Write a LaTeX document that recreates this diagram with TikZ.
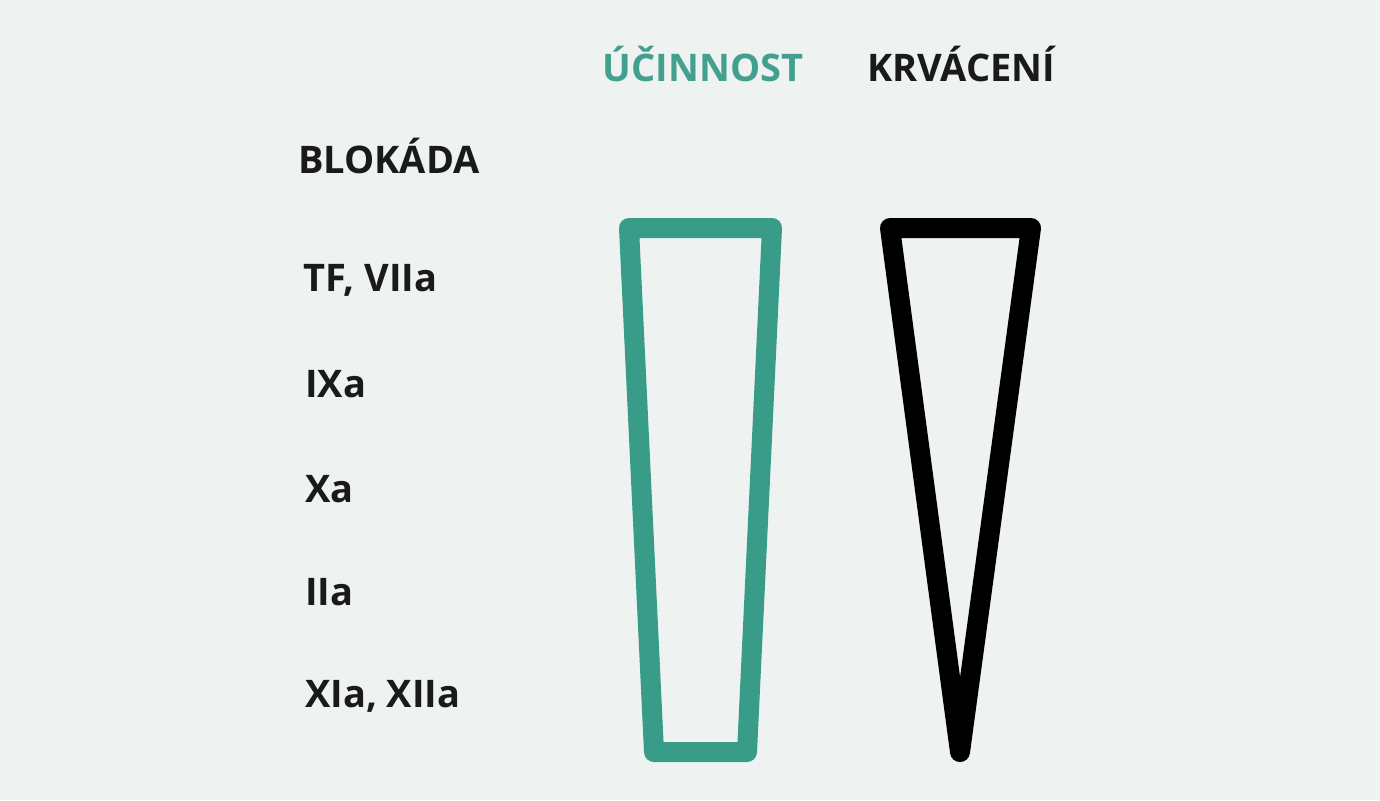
\documentclass[tikz,border=0pt]{standalone}
\usepackage{fontspec}
\setmainfont{Open Sans}
\definecolor{bg}{HTML}{EEF2F1}
\definecolor{teal}{HTML}{389C88}
\definecolor{tealtxt}{HTML}{44A08E}
\definecolor{ink}{HTML}{1A1A1A}
\begin{document}
\begin{tikzpicture}[x=1pt,y=-1pt,
  lbl/.style={anchor=west,inner sep=0pt,font=\fontsize{38}{45}\selectfont\bfseries,text=ink},
  head/.style={anchor=center,inner sep=0pt,font=\fontsize{38}{45}\selectfont\bfseries},
  shapeline/.style={line width=20pt,line join=round}]
\fill[bg] (0,0) rectangle (1380,800);
\useasboundingbox (0,0) rectangle (1380,800);
\node[head,text=tealtxt] (ucin) at (703,64) {ÚČINNOST};
\node[head,text=ink] (krv) at (961,64) {KRVÁCENÍ};
\node[lbl] (blok) at (298,156) {BLOKÁDA};
\node[lbl] (tf) at (303,280) {TF, VIIa};
\node[lbl] (ix) at (305,384) {IXa};
\node[lbl] (xa) at (305,489) {Xa};
\node[lbl] (iia) at (305,592) {IIa};
\node[lbl] (xi) at (305,696) {XIa, XIIa};
\draw[shapeline,teal] (629,228) -- (772,228) -- (747,752) -- (654,752) -- cycle;
\draw[shapeline,black] (890,228) -- (1031,228) -- (960,752) -- cycle;
\end{tikzpicture}
\end{document}
